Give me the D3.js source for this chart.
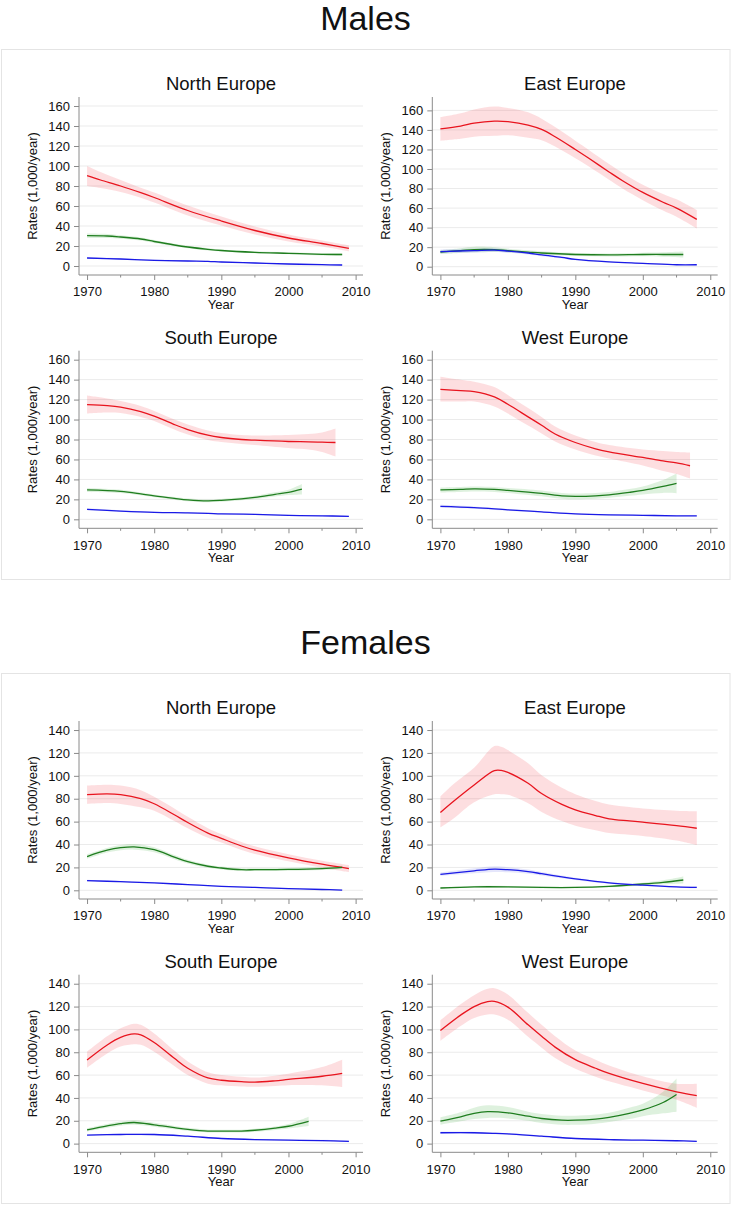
<!DOCTYPE html>
<html><head><meta charset="utf-8">
<script src="https://cdn.jsdelivr.net/npm/d3@7"></script>
<style>
body{margin:0;background:#fff}
svg{display:block}
text{font-family:"Liberation Sans",Arial,sans-serif;fill:#111}
</style></head>
<body><svg id="c" width="731" height="1205"></svg>
<script>
// ---- data: [year, estimate, lower CI, upper CI] ----
const SEXES = ["Males", "Females"];
const REGIONS = ["North Europe", "East Europe", "South Europe", "West Europe"];
const X_TICKS = [1970, 1980, 1990, 2000, 2010];
const X_MINOR = [1975, 1985, 1995, 2005];
const Y_TICKS_M = [0, 20, 40, 60, 80, 100, 120, 140, 160];
const Y_TICKS_F = [0, 20, 40, 60, 80, 100, 120, 140];
const Y_LABEL = "Rates (1,000/year)";
const X_LABEL = "Year";

const M_NORTH_RED = [[1970,90.3,80,100],[1972,86,78,94],[1975,80,74,86],[1978,73.3,68.3,78.3],[1980,68.5,63.5,73.5],[1985,55.5,50.5,60.5],[1990,45,40.5,49.5],[1995,35.5,31.5,39.5],[2000,28,24.5,31.5],[2005,22.5,19.5,25.5],[2009,17.7,14.7,20.7]];
const M_NORTH_GREEN = [[1970,30.3,28,32.5],[1973,30,28,32],[1975,29,27.3,30.7],[1978,27,25.5,28.5],[1980,24.5,23,26],[1983,21,19.7,22.3],[1985,19,17.8,20.2],[1988,16.7,15.6,17.8],[1990,15.5,14.5,16.5],[1995,13.7,12.7,14.7],[2000,12.7,11.7,13.7],[2005,11.7,10.5,12.9],[2008,11.5,10.2,12.8]];
const M_NORTH_BLUE = [[1970,8,7,9],[1975,7,6.2,7.8],[1980,5.7,5,6.4],[1985,5,4.4,5.6],[1988,4.7,4.1,5.3],[1990,4,3.4,4.6],[1995,3,2.5,3.5],[2000,2,1.5,2.5],[2005,1.3,0.8,1.8],[2008,1,0.5,1.5]];

const M_EAST_RED = [[1970,141,129,153],[1973,144,131,157],[1975,147,133,161],[1978,149,134,164],[1980,148.5,134.5,162.5],[1983,145,132,158],[1985,140.5,129.5,151.5],[1987,133,123,143],[1990,120,111,129],[1992,111,102.5,119.5],[1995,97,89,105],[1997,88,80,96],[2000,76,68,84],[2003,66,57.5,74.5],[2005,60,51,69],[2008,48.5,39,58]];
const M_EAST_GREEN = [[1970,15,13,17],[1973,16.5,14,19],[1975,17.5,14.5,20.5],[1978,17.5,15,20],[1980,16.5,14.5,18.5],[1983,15,13.2,16.8],[1985,14,12.3,15.7],[1990,12.5,11,14],[1995,12,10.5,13.5],[2000,12.5,10.8,14.2],[2003,12.5,10.3,14.7],[2006,12.5,9.5,15.5]];
const M_EAST_BLUE = [[1970,15.5,13.5,17.5],[1975,16.5,14.5,18.5],[1978,17,15,19],[1980,16,14.3,17.7],[1983,14,12.6,15.4],[1985,12,10.8,13.2],[1988,9.5,8.5,10.5],[1990,7.5,6.7,8.3],[1995,5,4.3,5.7],[2000,3.5,2.9,4.1],[2005,2,1.4,2.6],[2008,2,1.3,2.7]];

const M_SOUTH_RED = [[1970,115,106,124],[1973,114,107,121],[1975,112.5,106.5,118.5],[1978,108,102.5,113.5],[1980,103.5,98.5,108.5],[1983,95,90,100],[1985,90,85,95],[1988,84.3,79.5,89],[1990,82,77.5,86.5],[1993,80,75.5,84.5],[1995,79.3,74.5,84],[2000,78,71.5,84.5],[2003,77.7,70,85.5],[2005,77.3,67.5,87],[2007,77,63,91]];
const M_SOUTH_GREEN = [[1970,29.5,27.5,31.5],[1975,28,26.3,29.7],[1978,25.5,24,27],[1980,23.5,22,25],[1983,21,19.7,22.3],[1985,19.5,18.2,20.8],[1988,18.5,17.2,19.8],[1990,19,17.6,20.4],[1993,20.5,19,22],[1995,22,20.3,23.7],[1998,25,22.8,27.2],[2000,27,24.3,29.7],[2002,30.3,25,35.5]];
const M_SOUTH_BLUE = [[1970,10,9,11],[1975,8.3,7.5,9.1],[1980,7,6.3,7.7],[1985,6.5,5.9,7.1],[1988,6,5.4,6.6],[1990,5.5,4.9,6.1],[1995,5,4.4,5.6],[2000,4,3.4,4.6],[2005,3.5,2.9,4.1],[2009,3,2.3,3.7]];

const M_WEST_RED = [[1970,130.3,118,143],[1973,129,118,140],[1975,128,118,138],[1978,122.7,113,132.5],[1980,115.3,106,124.5],[1983,102.7,94,111.5],[1985,94.3,86,102.5],[1987,85.5,78,93],[1990,77,70,84],[1993,70.7,64,77.5],[1995,67.7,61,74.5],[2000,62,54,70],[2003,58.5,48.5,68.5],[2005,56.5,45.5,67.5],[2007,53.7,41,67]];
const M_WEST_GREEN = [[1970,29.5,27,32],[1973,30,27.5,32.5],[1975,30.5,28,33],[1978,30,27.5,32.5],[1980,29,26.5,31.5],[1985,26,23,29],[1988,23.5,20.5,26.5],[1990,23,20,26],[1993,23.5,20.5,26.5],[1995,24.5,21.5,27.5],[1998,27,23.5,30.5],[2000,29,25,33],[2003,33,26.5,39.5],[2005,36,26,46]];
const M_WEST_BLUE = [[1970,13,11.5,14.5],[1975,11.7,10.5,12.9],[1980,9.5,8.6,10.4],[1985,7.5,6.8,8.2],[1990,5.5,4.9,6.1],[1995,4.5,3.9,5.1],[2000,4,3.4,4.6],[2005,3.5,2.8,4.2],[2008,3.5,2.7,4.3]];

const F_NORTH_RED = [[1970,83.5,75.5,91.5],[1973,84.2,76.2,92.2],[1975,83.5,75.5,91.5],[1978,80,72.5,87.5],[1980,75.6,69.5,81.7],[1983,66,60.5,71.5],[1985,59.2,54.2,64.2],[1988,50,45.8,54.2],[1990,45.4,41.7,49.1],[1993,38.7,35.3,42.1],[1995,35.1,31.8,38.4],[2000,28.4,25.4,31.4],[2005,22.8,19.8,25.8],[2009,19,16,22]];
const F_NORTH_GREEN = [[1970,29.5,27.5,31.5],[1973,35,33,37],[1975,37.2,35,39.5],[1977,38,35.5,40.5],[1980,35.5,33.3,37.7],[1983,29,27.2,30.8],[1985,25,23.4,26.6],[1988,21,19.6,22.4],[1990,19.5,18.2,20.8],[1993,18,16.8,19.2],[1995,18,16.8,19.2],[2000,18.2,17,19.4],[2005,19,17.7,20.3],[2008,20,18.5,21.5]];
const F_NORTH_BLUE = [[1970,8.5,7.7,9.3],[1975,7.5,6.8,8.2],[1980,6.5,5.9,7.1],[1985,5,4.4,5.6],[1990,3.5,3,4],[1995,2.5,2,3],[2000,1.5,1,2],[2005,0.7,0.2,1.2],[2008,0.2,-0.3,0.7]];

const F_EAST_RED = [[1970,68,55,82],[1972,78,63,93],[1975,92,77,107],[1978,104.5,84,126],[1979,104.7,84,125.5],[1980,103,83.5,122.5],[1983,93.5,76,111],[1985,84.5,68.5,100.5],[1988,75,60.5,89.5],[1990,70.3,56.5,84],[1993,65.3,52.5,78],[1995,62.4,50,75],[1998,60.6,48.5,72.7],[2000,59.5,47.5,71.5],[2005,56.5,43.5,69.5],[2008,54.2,39.5,69]];
const F_EAST_GREEN = [[1970,2,1.3,2.7],[1975,3,2.2,3.8],[1980,3,2.2,3.8],[1985,2.5,1.8,3.2],[1990,2.5,1.8,3.2],[1995,3.5,2.7,4.3],[2000,5.5,4.3,6.7],[2003,7,5.3,8.7],[2006,9,6,12]];
const F_EAST_BLUE = [[1970,14,12.5,15.5],[1975,17,14.8,19.2],[1978,18.5,16,21],[1980,18,15.8,20.2],[1983,16.3,14.5,18.1],[1985,14.5,13,16],[1988,11.7,10.5,12.9],[1990,10,9,11],[1995,6.5,5.7,7.3],[2000,4.5,3.8,5.2],[2005,3,2.3,3.7],[2008,2.5,1.7,3.3]];

const F_SOUTH_RED = [[1970,73.2,66.5,80.5],[1973,86.4,79,94],[1975,93,85,101],[1977,96,87,105],[1978,95.2,86.5,104],[1980,88.5,80.5,96.5],[1983,74.7,68,81.5],[1985,66,60,72],[1988,57.5,52.5,62.5],[1990,55.5,51,60],[1993,54.2,50,58.5],[1995,53.8,49.8,57.8],[1998,55,50.5,59.5],[2000,56.2,51.2,61.2],[2005,59,51,67],[2008,61.5,49.5,73.5]];
const F_SOUTH_GREEN = [[1970,12,10.5,13.5],[1973,15.5,13.8,17.2],[1975,17.5,15.7,19.3],[1977,18.5,16.5,20.5],[1980,16.5,14.8,18.2],[1983,14,12.5,15.5],[1985,12.5,11.2,13.8],[1988,11,9.8,12.2],[1990,11,9.8,12.2],[1993,11,9.8,12.2],[1995,11.7,10.4,13],[1998,13.5,12,15],[2000,15.2,13.3,17.1],[2003,19.5,15.5,23.5]];
const F_SOUTH_BLUE = [[1970,7.5,6.8,8.2],[1975,8,7.3,8.7],[1980,8,7.3,8.7],[1985,6.5,5.9,7.1],[1990,4.5,4,5],[1995,3.5,3,4],[2000,3,2.5,3.5],[2005,2.7,2.1,3.3],[2009,2,1.3,2.7]];

const F_WEST_RED = [[1970,99,90,108],[1973,112.5,103,122],[1975,120,110,130],[1977,124.3,113,135.5],[1978,124.5,113,136],[1980,119.5,108.5,130.5],[1983,104,93.5,114.5],[1985,94,84,104],[1987,84.5,75,94],[1990,73.5,65.5,81.5],[1993,66,58.5,73.5],[1995,61.5,54.5,68.5],[2000,52.7,46.5,59],[2005,45.4,38.5,52.5],[2008,42,31.5,52.5]];
const F_WEST_GREEN = [[1970,19.7,16.5,23],[1973,23.5,19.5,27.5],[1975,26.5,21.5,31.5],[1977,28,22.5,33.5],[1980,27,22,32],[1983,24,20,28],[1985,22,18,26],[1988,20.5,16.5,24.5],[1990,20.5,16.5,24.5],[1993,21.5,17.5,25.5],[1995,23,19,27],[1998,26.5,21.5,31.5],[2000,29.5,24,35],[2003,36,26.5,45.5],[2005,43,28,57]];
const F_WEST_BLUE = [[1970,9.5,8.5,10.5],[1975,9.5,8.6,10.4],[1978,9,8.2,9.8],[1980,8.5,7.8,9.2],[1985,6.5,5.9,7.1],[1990,4.5,4,5],[1995,3.5,3,4],[2000,3,2.5,3.5],[2005,2.5,2,3],[2008,2,1.5,2.5]];

// ---- layout / style ----
const COLORS = {red:{line:"#e8141e", fill:"rgba(245,60,70,0.17)"},
                green:{line:"#1f7d1f", fill:"rgba(60,170,60,0.17)"},
                blue:{line:"#1a1ae6", fill:"rgba(70,80,230,0.14)"}};
const FONT = '"Liberation Sans", Arial, sans-serif';
const COLS = [[79, 363], [432.3, 717.7]];
const ROWS = [[48, 226], [301.7, 479.3]];
const X_DOMAIN = [1968.8, 2011.1];
const CURVE = d3.curveCatmullRom.alpha(0.5);

const blocks = [
  {title: SEXES[0], top: 49, yTicks: Y_TICKS_M,
   domains: [[-9,169],[-8.5,173.7],[-9,169],[-9,169]],
   series: [[M_NORTH_RED,M_NORTH_GREEN,M_NORTH_BLUE],[M_EAST_RED,M_EAST_GREEN,M_EAST_BLUE],
            [M_SOUTH_RED,M_SOUTH_GREEN,M_SOUTH_BLUE],[M_WEST_RED,M_WEST_GREEN,M_WEST_BLUE]]},
  {title: SEXES[1], top: 673, yTicks: Y_TICKS_F,
   domains: [[-7.6,147.9],[-7.6,147.9],[-7.6,147.9],[-7.6,147.9]],
   series: [[F_NORTH_RED,F_NORTH_GREEN,F_NORTH_BLUE],[F_EAST_RED,F_EAST_GREEN,F_EAST_BLUE],
            [F_SOUTH_RED,F_SOUTH_GREEN,F_SOUTH_BLUE],[F_WEST_RED,F_WEST_GREEN,F_WEST_BLUE]]}
];
const SERIES_COLORS = ["red", "green", "blue"];

const svg = d3.select("#c");
svg.append("rect").attr("width", 731).attr("height", 1205).attr("fill", "#fff");

blocks.forEach(b => {
  svg.append("text").attr("x", 365.5).attr("y", b.top - 19)
    .attr("text-anchor", "middle").style("font-size", "34px").style("font-family", FONT)
    .text(b.title);
  svg.append("rect").attr("x", 1.5).attr("y", b.top + 0.5).attr("width", 728.5).attr("height", 530)
    .attr("fill", "#fff").attr("stroke", "#e4e4e4").attr("stroke-width", 1);

  REGIONS.forEach((reg, i) => {
    const [x0, x1] = COLS[i % 2];
    const [r0, r1] = ROWS[Math.floor(i / 2)];
    const yTop = b.top + r0, yBot = b.top + r1;
    const x = d3.scaleLinear().domain(X_DOMAIN).range([x0, x1]);
    const y = d3.scaleLinear().domain(b.domains[i]).range([yBot, yTop]);
    const g = svg.append("g");

    // grid
    g.selectAll(".grid").data(b.yTicks).enter().append("line")
      .attr("x1", x0).attr("x2", x1).attr("y1", d => y(d)).attr("y2", d => y(d))
      .attr("stroke", "#ebebeb").attr("stroke-width", 1);

    // bands
    b.series[i].forEach((s, k) => {
      const area = d3.area().x(d => x(d[0])).y0(d => y(d[2])).y1(d => y(d[3])).curve(CURVE);
      g.append("path").attr("d", area(s)).attr("fill", COLORS[SERIES_COLORS[k]].fill).attr("stroke", "none");
    });
    // lines
    b.series[i].forEach((s, k) => {
      const line = d3.line().x(d => x(d[0])).y(d => y(d[1])).curve(CURVE);
      g.append("path").attr("d", line(s)).attr("fill", "none")
        .attr("stroke", COLORS[SERIES_COLORS[k]].line).attr("stroke-width", 1.3);
    });

    // y axis
    const ya = d3.axisLeft(y).tickValues(b.yTicks).tickSize(5).tickPadding(4).tickFormat(d3.format("d"));
    const yg = g.append("g").attr("transform", `translate(${x0},0)`).call(ya);
    yg.select(".domain").attr("d", `M0,${yTop}V${yBot}`);
    // x axis
    const xa = d3.axisBottom(x).tickValues(X_TICKS).tickSize(5).tickPadding(7).tickFormat(d3.format("d"));
    const xg = g.append("g").attr("transform", `translate(0,${yBot})`).call(xa);
    xg.select(".domain").attr("d", `M${x0},0H${x1}`);
    xg.selectAll(".minor").data(X_MINOR).enter().append("line").attr("class", "minor")
      .attr("x1", d => x(d)).attr("x2", d => x(d)).attr("y1", 0).attr("y2", 2.5);
    [yg, xg].forEach(ax => {
      ax.selectAll(".domain").attr("stroke", "#8a8a8a").attr("stroke-width", 1);
      ax.selectAll("line").attr("stroke", "#8a8a8a").attr("stroke-width", 1);
      ax.selectAll("text").style("font-size", "13px").style("font-family", FONT).attr("fill", "#111");
    });

    // titles
    g.append("text").attr("x", (x0 + x1) / 2).attr("y", yTop - 7).attr("text-anchor", "middle")
      .style("font-size", "18.5px").style("font-family", FONT).text(reg);
    g.append("text").attr("x", (x0 + x1) / 2).attr("y", yBot + 34).attr("text-anchor", "middle")
      .style("font-size", "13px").style("font-family", FONT).text(X_LABEL);
    g.append("text").attr("transform", `translate(${x0 - 42},${(yTop + yBot) / 2}) rotate(-90)`)
      .attr("text-anchor", "middle").style("font-size", "13px").style("font-family", FONT).text(Y_LABEL);
  });
});
</script></body></html>
